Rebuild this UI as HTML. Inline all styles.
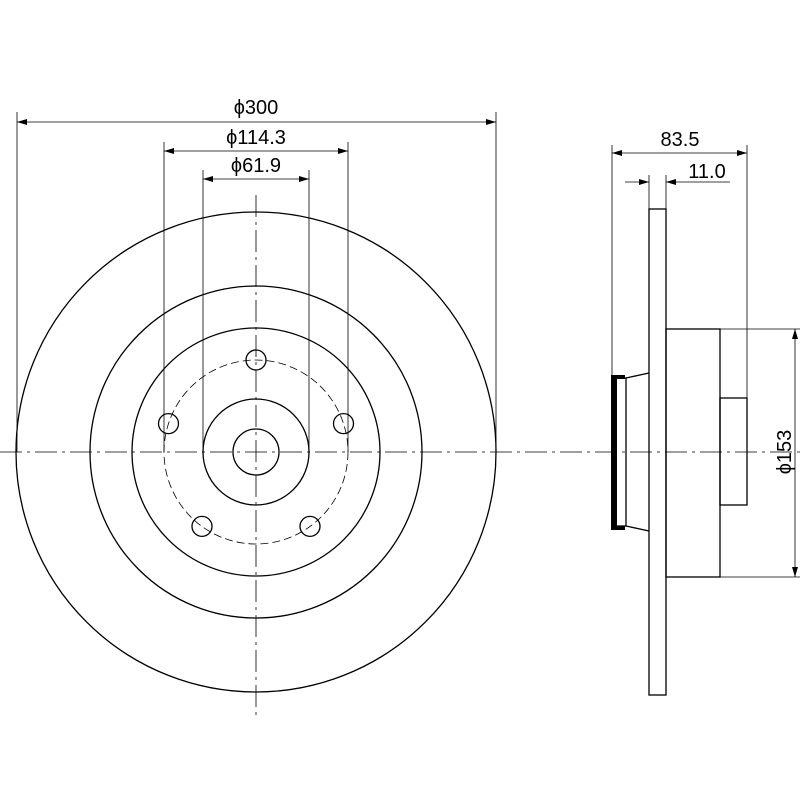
<!DOCTYPE html>
<html><head><meta charset="utf-8"><style>body{margin:0;background:#fff}svg{display:block}</style></head><body>
<svg width="800" height="800" viewBox="0 0 800 800" xmlns="http://www.w3.org/2000/svg" font-family="Liberation Sans, sans-serif">
<defs><marker id="a" viewBox="0 0 10 6" refX="10" refY="3" markerWidth="10" markerHeight="6" orient="auto-start-reverse" markerUnits="userSpaceOnUse"><path d="M0,0L10,3L0,6z" fill="#000"/></marker></defs>
<g fill="none" stroke="#000" stroke-width="1.3">
<circle cx="256" cy="452" r="240"/>
<circle cx="256" cy="452" r="166"/>
<circle cx="256" cy="452" r="124"/>
<circle cx="256" cy="452" r="53"/>
<circle cx="256" cy="452" r="23"/>
<circle cx="256" cy="452" r="92" stroke-dasharray="8,4" stroke-width="0.8"/>
<circle cx="256" cy="360" r="10"/>
<circle cx="343.5" cy="423.6" r="10"/>
<circle cx="310" cy="526.4" r="10"/>
<circle cx="202" cy="526.4" r="10"/>
<circle cx="168.5" cy="423.6" r="10"/>
</g>
<g stroke="#000" stroke-width="0.8" fill="none">
<line x1="0" y1="452" x2="800" y2="452" stroke-dasharray="22,5,3,5"/>
<line x1="256" y1="195" x2="256" y2="715" stroke-dasharray="22,5,3,5"/>
<line x1="17" y1="112" x2="17" y2="452"/><line x1="496" y1="112" x2="496" y2="452"/>
<line x1="164" y1="142" x2="164" y2="452"/><line x1="348" y1="142" x2="348" y2="452"/>
<line x1="203" y1="170" x2="203" y2="452"/><line x1="309" y1="170" x2="309" y2="452"/>
<line x1="17" y1="122" x2="496" y2="122" marker-start="url(#a)" marker-end="url(#a)"/>
<line x1="164" y1="151" x2="348" y2="151" marker-start="url(#a)" marker-end="url(#a)"/>
<line x1="203" y1="179" x2="309" y2="179" marker-start="url(#a)" marker-end="url(#a)"/>
<line x1="612" y1="145" x2="612" y2="375"/><line x1="747" y1="145" x2="747" y2="398"/>
<line x1="612" y1="153" x2="747" y2="153" marker-start="url(#a)" marker-end="url(#a)"/>
<line x1="649" y1="175" x2="649" y2="209"/><line x1="666" y1="175" x2="666" y2="209"/>
<line x1="625" y1="182" x2="649" y2="182" marker-end="url(#a)"/>
<line x1="690" y1="182" x2="666" y2="182" marker-end="url(#a)"/>
<line x1="690" y1="182" x2="730" y2="182"/>
<line x1="720" y1="329" x2="800" y2="329"/><line x1="720" y1="577" x2="800" y2="577"/>
<line x1="795" y1="329" x2="795" y2="577" marker-start="url(#a)" marker-end="url(#a)"/>
</g>
<g fill="none" stroke="#000" stroke-width="1.3">
<rect x="649" y="209" width="17" height="486"/>
<rect x="666" y="329" width="54" height="248"/>
<rect x="720" y="398" width="27" height="107"/>
<rect x="616" y="378" width="10" height="148"/>
<path d="M626,378 L649,373 M626,526 L649,531"/>
</g>
<rect x="611" y="375" width="6" height="155" fill="#000"/>
<rect x="611" y="375" width="14" height="4" fill="#000"/>
<rect x="611" y="526" width="14" height="4" fill="#000"/>
<g font-size="20" text-anchor="middle" fill="#000">
<text x="256" y="114">ϕ300</text>
<text x="256" y="144">ϕ114.3</text>
<text x="256" y="172">ϕ61.9</text>
<text x="680" y="146">83.5</text>
<text x="707" y="178">11.0</text>
<text x="0" y="0" transform="translate(791,452) rotate(-90)">ϕ153</text>
</g>
</svg>
</body></html>
